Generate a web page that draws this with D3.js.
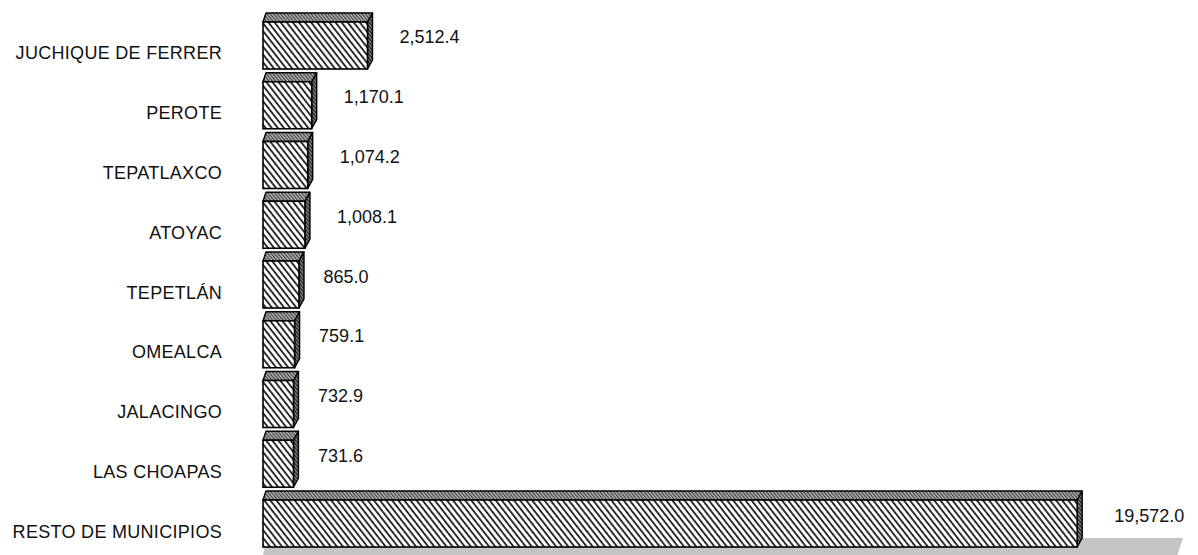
<!DOCTYPE html>
<html>
<head>
<meta charset="utf-8">
<script src="https://cdn.jsdelivr.net/npm/d3@7"></script>
<style>
  body { margin: 0; background: #fff; }
  svg text { font-family: "Liberation Sans", Arial, sans-serif; fill: #111; }
</style>
</head>
<body>
<svg id="chart"></svg>
<script>
const categories = ['JUCHIQUE DE FERRER', 'PEROTE', 'TEPATLAXCO', 'ATOYAC', 'TEPETLÁN',
                    'OMEALCA', 'JALACINGO', 'LAS CHOAPAS', 'RESTO DE MUNICIPIOS'];
const values = [2512.4, 1170.1, 1074.2, 1008.1, 865.0, 759.1, 732.9, 731.6, 19572.0];

const width = 1198, height = 555;
const plotLeft = 263, plotRight = 1183;
const depth = { left: 3, right: 5, up: 9 };
const fmt = d3.format(',.1f');

const svg = d3.select('#chart')
      .attr('width', width)
      .attr('height', height);

const x = d3.scaleLinear()
      .domain([0, 20000])
      .range([plotLeft, plotLeft + 832]);

const y = d3.scaleBand()
      .domain(categories)
      .range([22, 547])
      .paddingInner(0.2134)
      .paddingOuter(0);

const bw = y.bandwidth();

// hatch patterns
const defs = svg.append('defs');
function hatch(id, bg, fg, size, stripe, angle) {
      const p = defs.append('pattern')
            .attr('id', id)
            .attr('patternUnits', 'userSpaceOnUse')
            .attr('width', size)
            .attr('height', size)
            .attr('patternTransform', `rotate(${angle})`);
      p.append('rect').attr('width', size).attr('height', size).attr('fill', bg);
      p.append('rect').attr('width', stripe).attr('height', size).attr('fill', fg);
}
hatch('hatchFront', '#fff', '#2a2a2a', 4.8, 1.9, -38);
hatch('hatchTop', '#b4b4b4', '#3a3a3a', 2.6, 1.1, -40);
hatch('hatchSide', '#8a8a8a', '#1e1e1e', 2.6, 1.3, -40);

// floor
const last = categories[categories.length - 1];
const floorTop = y(last) + bw - depth.up;
svg.append('polygon')
      .attr('points', [[x(0) + depth.left, floorTop], [plotRight, floorTop],
                       [plotRight - 6, height + 1], [x(0), height + 1]].join(' '))
      .attr('fill', '#c4c4c4');

const bars = svg.selectAll('g.bar')
      .data(values)
      .enter()
      .append('g')
      .attr('class', 'bar');

bars.append('polygon')
      .attr('points', (d, i) => {
            const x0 = x(0), x1 = x(d), yt = y(categories[i]);
            return [[x0, yt], [x0 + depth.left, yt - depth.up],
                    [x1 + depth.right, yt - depth.up], [x1, yt]].join(' ');
      })
      .attr('fill', 'url(#hatchTop)')
      .attr('stroke', '#000')
      .attr('stroke-width', 1.4)
      .attr('stroke-linejoin', 'round');

bars.append('polygon')
      .attr('points', (d, i) => {
            const x1 = x(d), yt = y(categories[i]), yb = yt + bw;
            return [[x1, yt], [x1 + depth.right, yt - depth.up],
                    [x1 + depth.right, yb - depth.up], [x1, yb]].join(' ');
      })
      .attr('fill', 'url(#hatchSide)')
      .attr('stroke', '#000')
      .attr('stroke-width', 1.4)
      .attr('stroke-linejoin', 'round');

bars.append('rect')
      .attr('x', x(0))
      .attr('y', (d, i) => y(categories[i]))
      .attr('width', d => x(d) - x(0))
      .attr('height', bw)
      .attr('fill', 'url(#hatchFront)')
      .attr('stroke', '#000')
      .attr('stroke-width', 1.6);

// category labels
svg.selectAll('text.cat')
      .data(categories)
      .enter()
      .append('text')
      .attr('class', 'cat')
      .attr('x', 222)
      .attr('y', d => y(d) + bw / 2 + 14)
      .attr('text-anchor', 'end')
      .style('font-size', '18px')
      .style('letter-spacing', '0.3px')
      .text(d => d);

// value labels
svg.selectAll('text.val')
      .data(values)
      .enter()
      .append('text')
      .attr('class', 'val')
      .attr('y', (d, i) => y(categories[i]) + bw / 2 - 2)
      .style('font-size', '18px')
      .text(d => fmt(d))
      .attr('x', function (d) {
            const w = this.getComputedTextLength();
            return x(d) + 2 + w / 2;
      });
</script>
</body>
</html>
